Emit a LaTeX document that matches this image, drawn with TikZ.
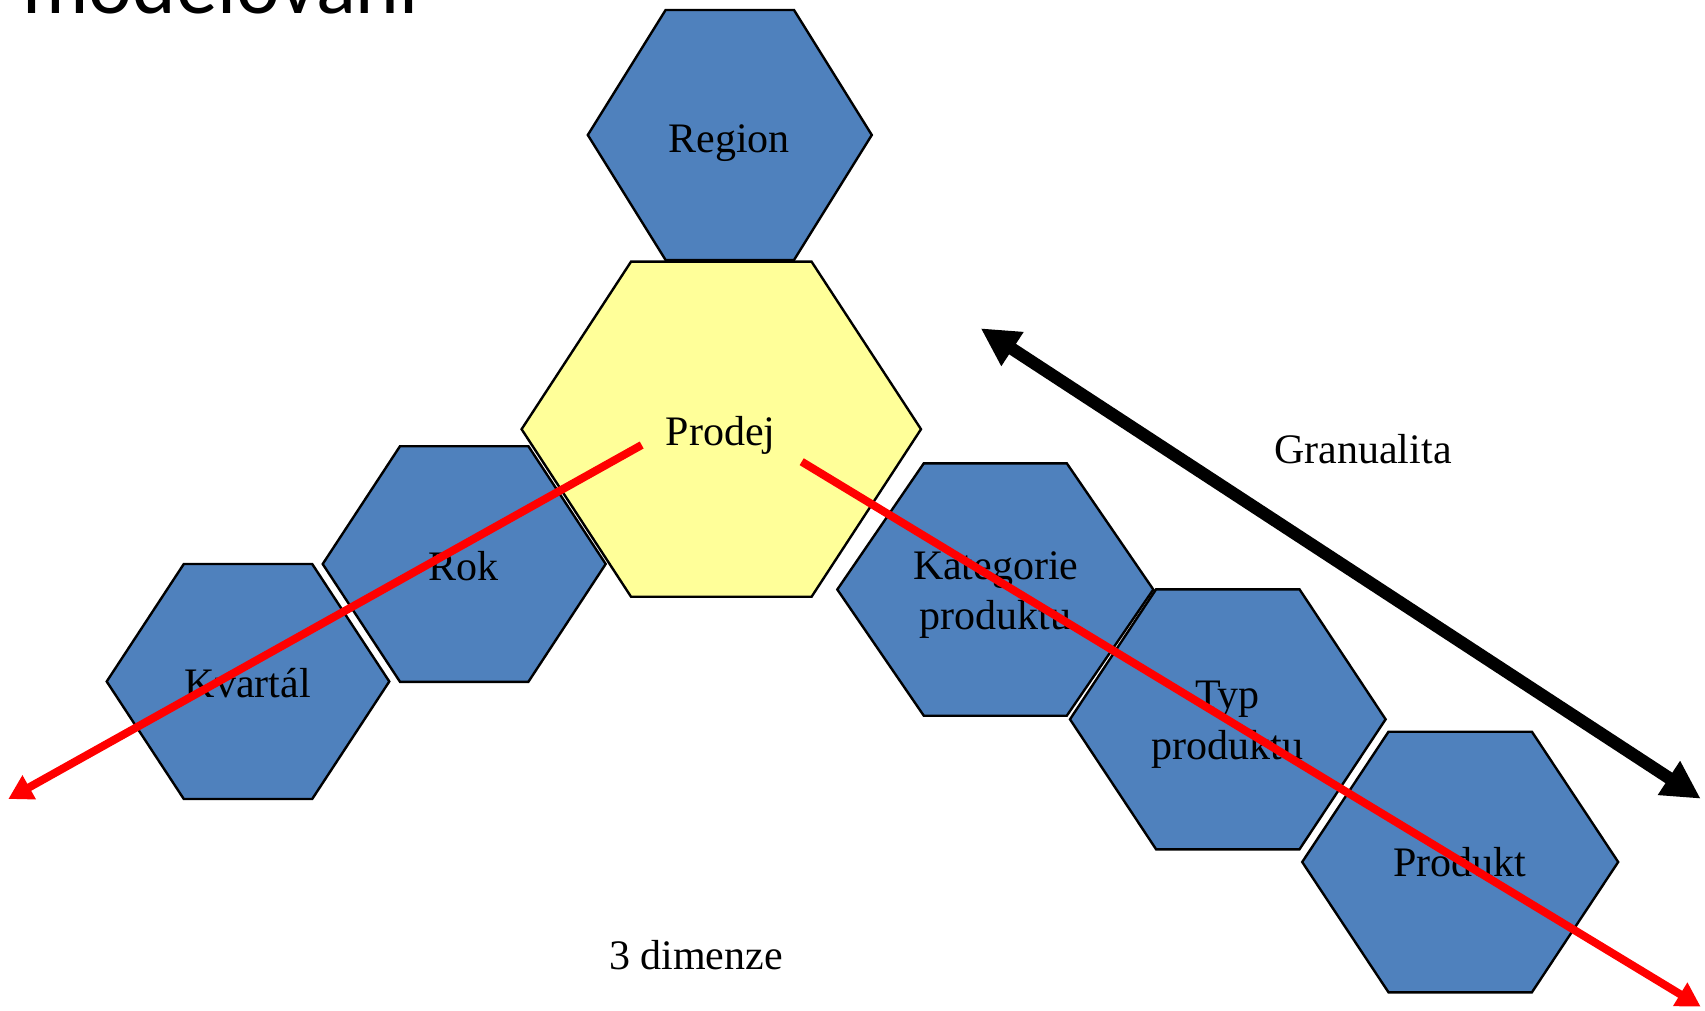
\documentclass[tikz,border=0pt]{standalone}
\usepackage{fontspec}
\setmainfont{Liberation Serif}
\newfontfamily\titlefont{Carlito}
\usetikzlibrary{arrows.meta}

\definecolor{cellblue}{HTML}{4F81BD}
\definecolor{factyellow}{HTML}{FFFF99}
\definecolor{drillred}{HTML}{FF0000}

% hexagon: #1 style, #2 cx, #3 cy, #4 half width, #5 half height, #6 half top edge
\newcommand{\hexcell}[6]{%
  \path[#1] ({#2-#4},#3) -- ({#2-#6},{#3-#5}) -- ({#2+#6},{#3-#5})
    -- ({#2+#4},#3) -- ({#2+#6},{#3+#5}) -- ({#2-#6},{#3+#5}) -- cycle;}

\tikzset{
  dimcell/.style={draw=black, line width=1.2pt, fill=cellblue, line join=miter},
  factcell/.style={draw=black, line width=1.2pt, fill=factyellow, line join=miter},
  lbl/.style={inner sep=0pt, font=\fontsize{21}{25.2}\selectfont, text=black},
  drill/.style={draw=drillred, line width=4pt,
    -{Triangle[length=12pt, width=13pt]}},
  grain/.style={draw=black, line width=6.25pt,
    {Triangle[length=19pt, width=19pt]}-{Triangle[length=19pt, width=19pt]}},
}

\begin{document}
\begin{tikzpicture}[x=0.5pt, y=-0.5pt]
  \useasboundingbox (0,0) rectangle (1705,1011);
  \clip (0,0) rectangle (1705,1011);
  \fill[white] (0,0) rectangle (1705,1011);

  % heading line, partly above the page edge
  \node[anchor=base west, inner sep=0pt, font=\titlefont\fontsize{41.5}{50}\selectfont]
    (title) at (22,14) {modelování};

  % dimension and fact cells
  \hexcell{dimcell}{729.8}{135}{142}{125}{64.2}
  \hexcell{factcell}{721.3}{429.2}{199.7}{167.5}{90.3}
  \hexcell{dimcell}{464.2}{564}{141.5}{117.8}{64.2}
  \hexcell{dimcell}{248}{681.5}{141.3}{117.5}{64.2}
  \hexcell{dimcell}{995.3}{589.5}{158}{126.2}{71.5}
  \hexcell{dimcell}{1227.8}{719.3}{157.8}{130}{71.7}
  \hexcell{dimcell}{1460.2}{862}{158}{130.3}{71.7}

  % cell labels
  \node[lbl, anchor=base] (region) at (729.2,152.3) {Region};
  \node[lbl, anchor=base] (prodej) at (720.8,445) {Prodej};
  \node[lbl, anchor=base] (rok) at (463.8,580) {Rok};
  \node[lbl, anchor=base] (kvartal) at (247.8,697.3) {Kvartál};
  \node[lbl, align=center] (kategorie) at (995.8,594.9) {Kategorie\\produktu};
  \node[lbl, align=center] (typ) at (1227.5,724.9) {Typ\\produktu};
  \node[lbl, anchor=base] (produkt) at (1460,876.7) {Produkt};

  % free labels
  \node[lbl, anchor=base] (granualita) at (1363,463.3) {Granualita};
  \node[lbl, anchor=base] (dimenze) at (696,969) {3 dimenze};

  % granularity arrow
  \coordinate (gTop) at (980.7,328.3);
  \coordinate (gBot) at (1700.7,798.7);
  \draw[grain] (gTop) -- (gBot);

  % drill-down arrows out of the fact cell
  \coordinate (dL0) at (641.7,445);
  \coordinate (dL1) at (8.3,799);
  \coordinate (dR0) at (801.7,461.7);
  \coordinate (dR1) at (1700.7,1006.7);
  \draw[drill] (dL0) -- (dL1);
  \draw[drill] (dR0) -- (dR1);
\end{tikzpicture}
\end{document}
